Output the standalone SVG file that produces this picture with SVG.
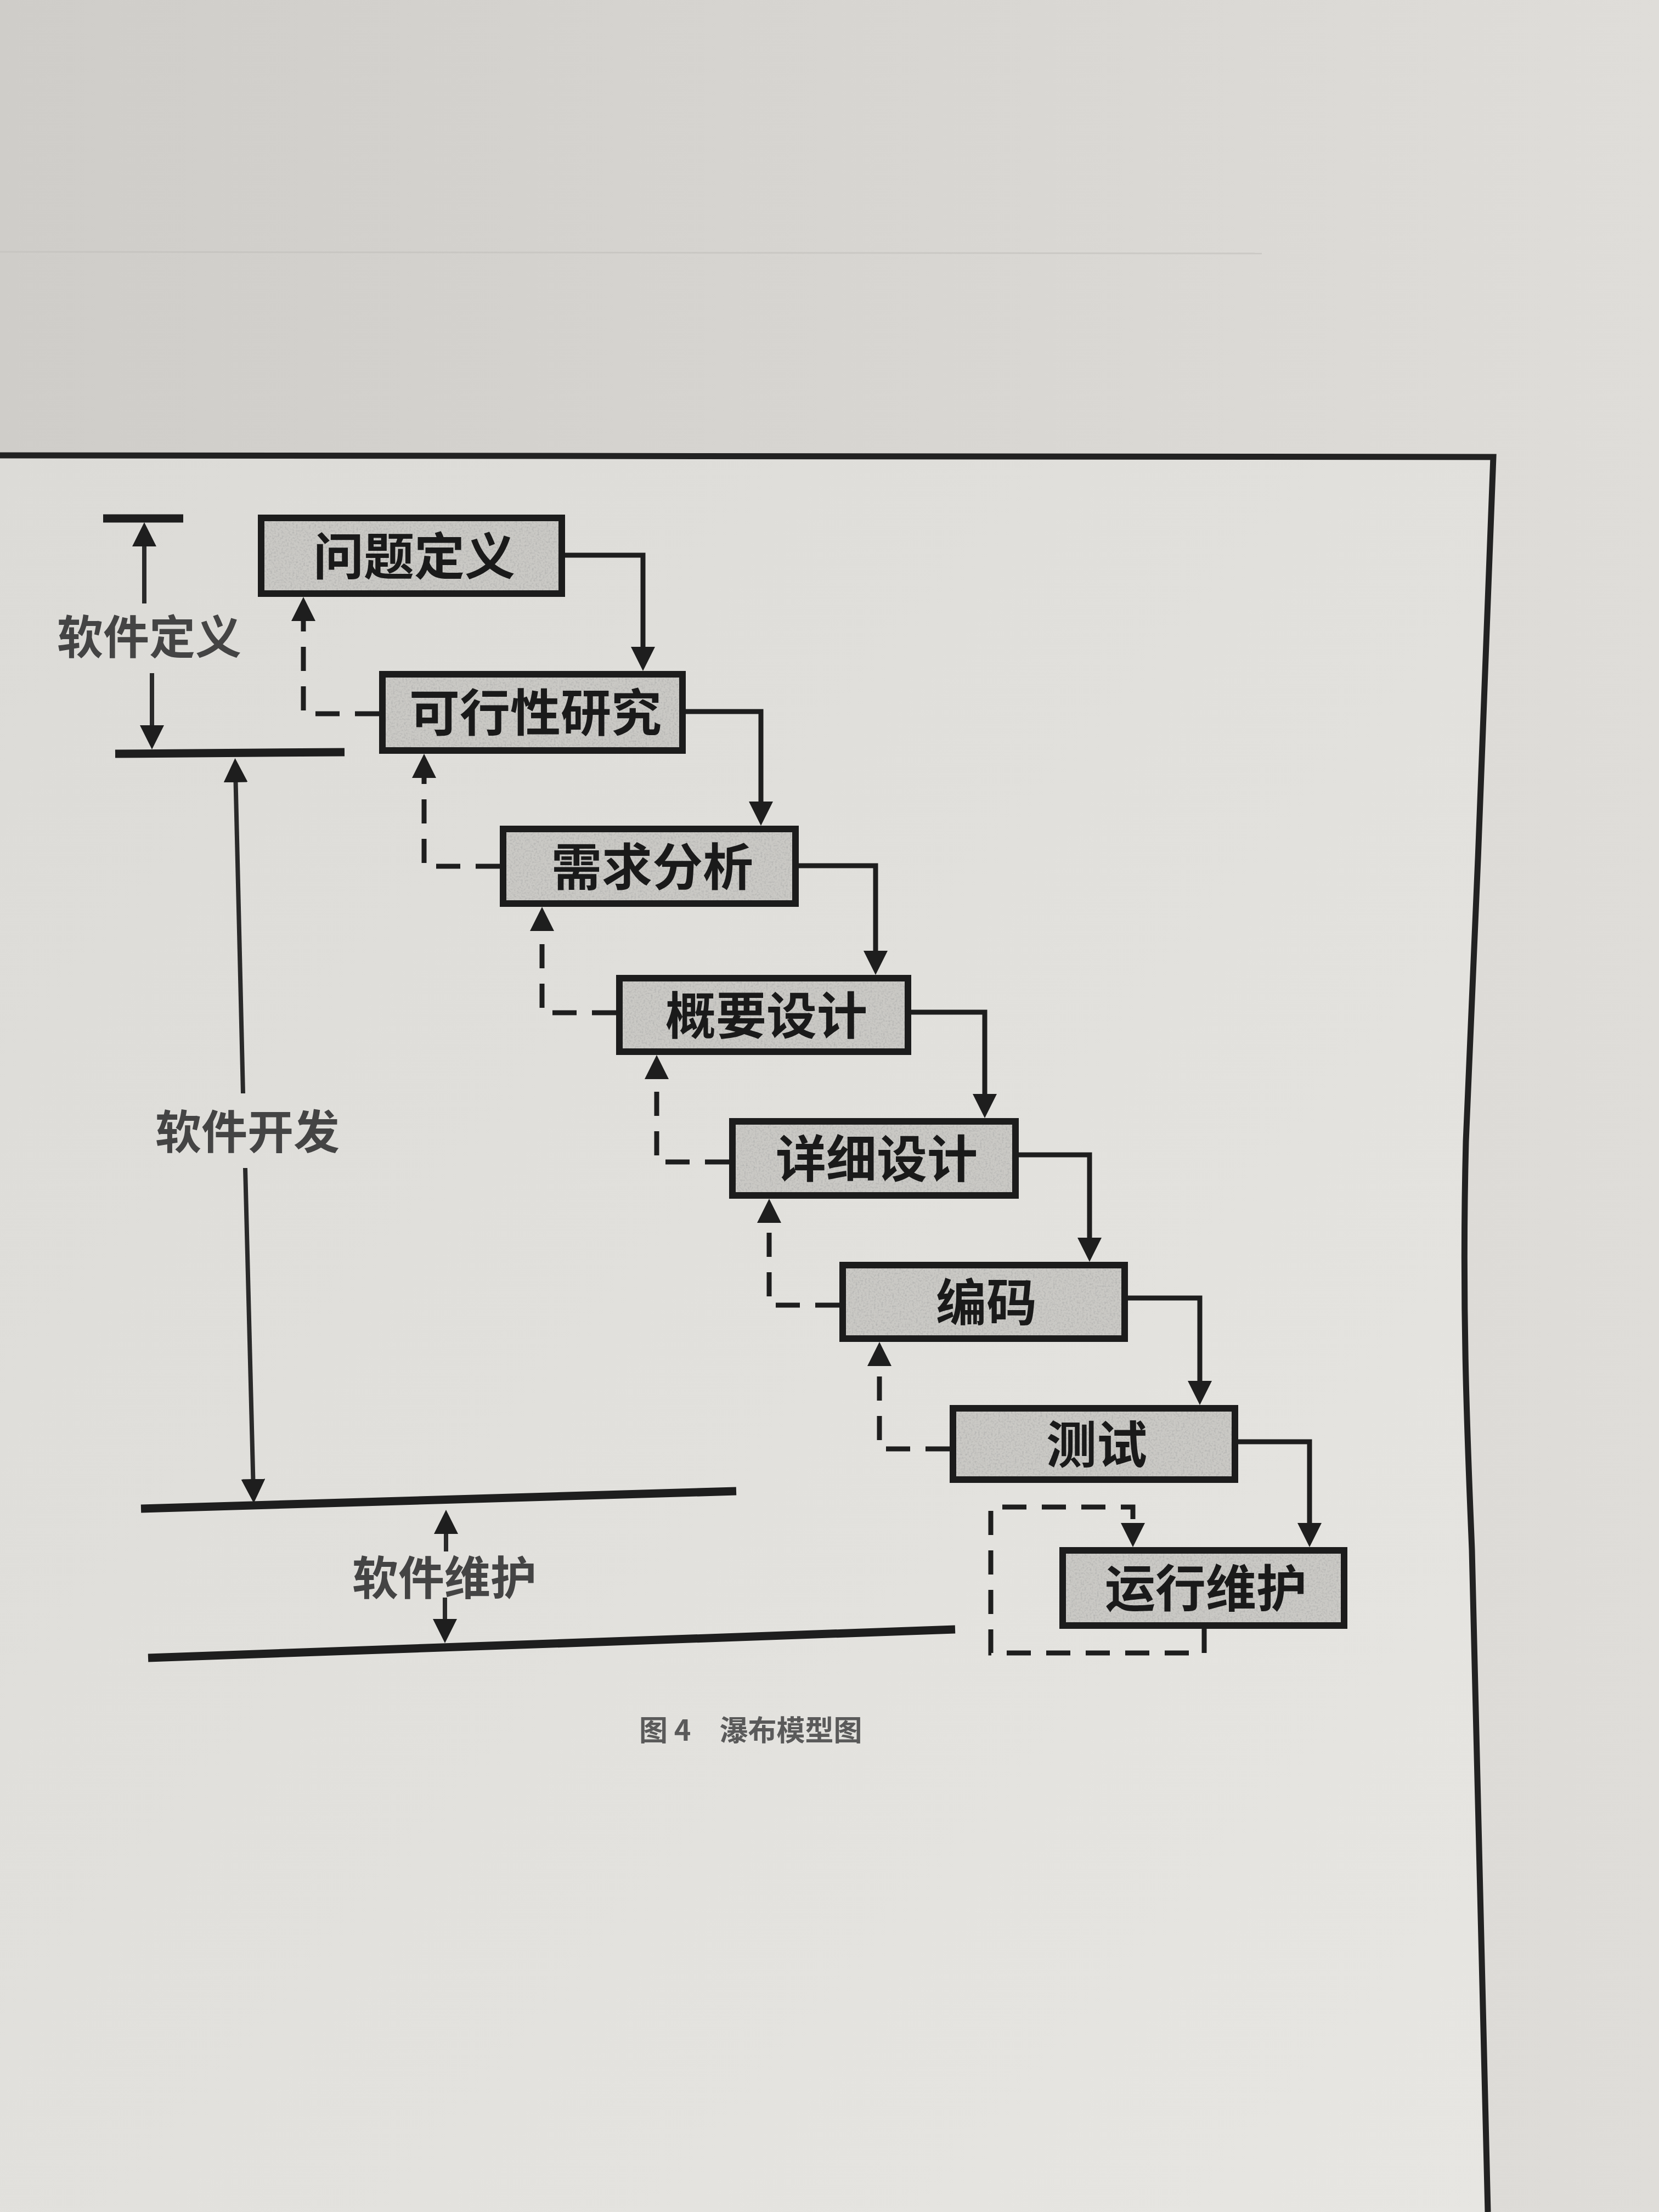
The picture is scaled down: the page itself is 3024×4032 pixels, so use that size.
<svg xmlns="http://www.w3.org/2000/svg" width="3024" height="4032" viewBox="0 0 3024 4032">
<defs>
  <linearGradient id="bg" x1="0" y1="0" x2="1" y2="0">
    <stop offset="0" stop-color="#cfcdc9"/>
    <stop offset="1" stop-color="#dfddd9"/>
  </linearGradient>
  <linearGradient id="paper" x1="0" y1="0" x2="1" y2="1">
    <stop offset="0" stop-color="#dcdbd7"/>
    <stop offset="1" stop-color="#e7e6e2"/>
  </linearGradient>
  <filter id="grain" x="0" y="0" width="100%" height="100%">
    <feTurbulence type="fractalNoise" baseFrequency="0.3" numOctaves="2" seed="4" result="n"/>
    <feColorMatrix in="n" type="matrix" values="0 0 0 0 0.45  0 0 0 0 0.45  0 0 0 0 0.44  0 0 0 2.2 -0.95" result="g"/>
    <feComposite in="g" in2="SourceGraphic" operator="in" result="gc"/>
    <feMerge><feMergeNode in="SourceGraphic"/><feMergeNode in="gc"/></feMerge>
  </filter>
  <marker id="arr" viewBox="0 0 44 44" refX="24" refY="22" markerWidth="44" markerHeight="44" markerUnits="userSpaceOnUse" orient="auto">
    <path d="M0,0 L44,22 L0,44 z" fill="#1e1e1e"/>
  </marker>
  <style>
    .fill { fill: #cac9c5; }
    .frame { fill: none; stroke: #1c1c1c; stroke-width: 12; }
    .lbl { font-family: "Noto Sans CJK SC", "Noto Sans CJK TC", sans-serif; font-weight: 700; font-size: 92px; fill: #1a1a1a; text-anchor: middle; }
    .side { font-family: "Noto Sans CJK SC", "Noto Sans CJK TC", sans-serif; font-weight: 700; font-size: 84px; fill: #444444; text-anchor: middle; }
    .cap { font-family: "Noto Sans CJK SC", "Noto Sans CJK TC", sans-serif; font-weight: 700; font-size: 52px; fill: #5a5a5a; }
    .solid { fill: none; stroke: #1e1e1e; stroke-width: 9; marker-end: url(#arr); }
    .dash { fill: none; stroke: #1e1e1e; stroke-width: 9; stroke-dasharray: 44 28; marker-end: url(#arr); }
    .bar { stroke: #1e1e1e; stroke-width: 15; fill: none; }
    .dim { stroke: #2a2a2a; stroke-width: 8; fill: none; marker-end: url(#arr); }
  </style>
</defs>

<!-- background photo of page -->
<rect x="0" y="0" width="3024" height="4032" fill="url(#bg)"/>
<line x1="0" y1="459" x2="2300" y2="462" stroke="#c2c0bc" stroke-width="3" opacity="0.6"/>
<path d="M0,830 L2722,833 C2712,1100 2690,1700 2672,2081 C2664,2400 2676,2650 2683,2825 C2695,3300 2706,3700 2712,4032 L0,4032 z" fill="url(#paper)"/>
<path d="M0,830 L2722,833 C2712,1100 2690,1700 2672,2081 C2664,2400 2676,2650 2683,2825 C2695,3300 2706,3700 2712,4032" fill="none" stroke="#222" stroke-width="11"/>

<!-- left dimension markers -->
<g id="phase-definition">
  <line class="bar" x1="188" y1="945" x2="334" y2="945"/>
  <line class="dim" x1="263" y1="1100" x2="263" y2="972"/>
  <line class="dim" x1="277" y1="1227" x2="277" y2="1346"/>
  <line class="bar" x1="210" y1="1374" x2="628" y2="1371"/>
  <text class="side" x="272" y="1192">软件定义</text>
</g>
<g id="phase-development">
  <line class="dim" x1="443" y1="1993" x2="429" y2="1402"/>
  <line class="dim" x1="447" y1="2129" x2="462" y2="2720"/>
  <line class="bar" x1="257" y1="2750" x2="1342" y2="2718"/>
  <text class="side" x="451" y="2094">软件开发</text>
</g>
<g id="phase-maintenance">
  <line class="dim" x1="813" y1="2828" x2="813" y2="2772"/>
  <line class="dim" x1="811" y1="2912" x2="811" y2="2975"/>
  <line class="bar" x1="270" y1="3022" x2="1741" y2="2970"/>
  <text class="side" x="810" y="2907">软件维护</text>
</g>

<!-- connectors -->
<g id="connectors">
  <path class="solid" d="M1030,1012 H1172 V1203"/>
  <path class="solid" d="M1250,1297 H1387 V1485"/>
  <path class="solid" d="M1456,1578 H1596 V1757"/>
  <path class="solid" d="M1661,1845 H1795 V2018"/>
  <path class="solid" d="M1857,2105 H1986 V2280"/>
  <path class="solid" d="M2056,2366 H2187 V2541"/>
  <path class="solid" d="M2257,2628 H2387 V2800"/>

  <path class="dash" d="M691,1301 H553 V1108"/>
  <path class="dash" d="M911,1579 H773 V1394"/>
  <path class="dash" d="M1123,1846 H988 V1673"/>
  <path class="dash" d="M1329,2118 H1197 V1943"/>
  <path class="dash" d="M1530,2379 H1402 V2205"/>
  <path class="dash" d="M1731,2641 H1603 V2466"/>
  <path class="dash" d="M2195,2969 V3013 H1806 V2747 H2065 V2800"/>
</g>

<!-- nodes -->
<g id="n1">
  <rect class="fill" filter="url(#grain)" x="476" y="944" width="548" height="138"/>
  <rect class="frame" x="476" y="944" width="548" height="138"/>
  <text class="lbl" x="755" y="1048">问题定义</text>
</g>
<g id="n2">
  <rect class="fill" filter="url(#grain)" x="697" y="1229" width="547" height="139"/>
  <rect class="frame" x="697" y="1229" width="547" height="139"/>
  <text class="lbl" x="976" y="1333">可行性研究</text>
</g>
<g id="n3">
  <rect class="fill" filter="url(#grain)" x="917" y="1511" width="533" height="136"/>
  <rect class="frame" x="917" y="1511" width="533" height="136"/>
  <text class="lbl" x="1189" y="1614">需求分析</text>
</g>
<g id="n4">
  <rect class="fill" filter="url(#grain)" x="1129" y="1783" width="526" height="134"/>
  <rect class="frame" x="1129" y="1783" width="526" height="134"/>
  <text class="lbl" x="1397" y="1885">概要设计</text>
</g>
<g id="n5">
  <rect class="fill" filter="url(#grain)" x="1335" y="2044" width="516" height="135"/>
  <rect class="frame" x="1335" y="2044" width="516" height="135"/>
  <text class="lbl" x="1598" y="2146">详细设计</text>
</g>
<g id="n6">
  <rect class="fill" filter="url(#grain)" x="1536" y="2306" width="514" height="134"/>
  <rect class="frame" x="1536" y="2306" width="514" height="134"/>
  <text class="lbl" x="1798" y="2408">编码</text>
</g>
<g id="n7">
  <rect class="fill" filter="url(#grain)" x="1737" y="2567" width="514" height="130"/>
  <rect class="frame" x="1737" y="2567" width="514" height="130"/>
  <text class="lbl" x="1999" y="2667">测试</text>
</g>
<g id="n8">
  <rect class="fill" filter="url(#grain)" x="1937" y="2826" width="513" height="137"/>
  <rect class="frame" x="1937" y="2826" width="513" height="137"/>
  <text class="lbl" x="2198" y="2929">运行维护</text>
</g>

<text class="cap" x="1165" y="3173" xml:space="preserve">图 4　瀑布模型图</text>
</svg>
